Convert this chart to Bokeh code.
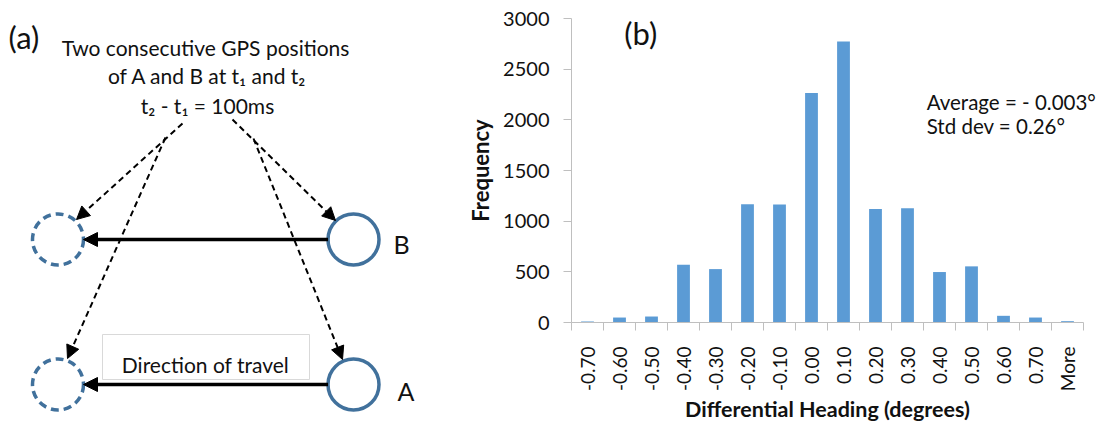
import math
from bokeh.plotting import figure
from bokeh.models import (Range1d, FixedTicker, Label, Arrow, NormalHead, ColumnDataSource,
                          LinearAxis)
from bokeh.core.properties import value
from bokeh.embed import file_html
from bokeh.resources import INLINE

# ---------------- data: panel (b) histogram ----------------
bins = ["-0.70", "-0.60", "-0.50", "-0.40", "-0.30", "-0.20", "-0.10", "0.00",
        "0.10", "0.20", "0.30", "0.40", "0.50", "0.60", "0.70", "More"]
freq = [10, 49, 59, 570, 527, 1167, 1164, 2265, 2773, 1121, 1128, 498, 554, 66, 49, 13]
y_ticks = [0, 500, 1000, 1500, 2000, 2500, 3000]
stats_lines = ["Average = - 0.003°", "Std dev = 0.26°"]

# ---------------- panel (a) diagram texts ----------------
header_lines = ["Two consecutive GPS positions", "of A and B at t\u2081 and t\u2082",
                "t\u2082 - t\u2081 = 100ms"]
point_names = ["B", "A"]
box_text = "Direction of travel"

# ---------------- layout geometry (pixels) ----------------
W, H = 1113, 423
PLOT_L, PLOT_R, PLOT_T, PLOT_B = 571, 1083, 18, 322   # histogram plot area
YMAX = 3000

# diagram geometry (pixel coordinates, y grows downward)
row_y = [239, 384]
old_x, new_x = 57.5, 353
circ_r = 25.5

FONT = "Lato"
TXT = "#111111"
AX = "#BFBFBF"
CIRC = "#41719C"

n = len(bins)
centers = [i + 0.5 for i in range(n)]
src = ColumnDataSource(dict(x=centers, top=freq, label=bins))

ux = (PLOT_R - PLOT_L) / n          # pixels per category
uy = YMAX / (PLOT_B - PLOT_T)       # frequency units per pixel
x_range = Range1d(-PLOT_L / ux, n + (W - PLOT_R) / ux)
y_range = Range1d(-(H - PLOT_B) * uy, YMAX + PLOT_T * uy)

p = figure(width=W, height=H, x_range=x_range, y_range=y_range,
           output_backend="svg", toolbar_location=None, x_axis_type=None, y_axis_type=None,
           min_border=0, outline_line_color=None)
p.xgrid.visible = False
p.ygrid.visible = False

# pixel-like ranges used for the diagram of panel (a)
p.extra_x_ranges = {"dx": Range1d(0, W)}
p.extra_y_ranges = {"dy": Range1d(H, 0)}
D = dict(x_range_name="dx", y_range_name="dy")

# ---------------- panel (b) ----------------
p.vbar(x="x", top="top", width=0.4, source=src, fill_color="#5B9BD5", line_color=None)

xa = LinearAxis(fixed_location=0, bounds=(0, n))
xa.ticker = FixedTicker(ticks=centers, minor_ticks=list(range(n + 1)))
xa.major_label_overrides = {c: b for c, b in zip(centers, bins)}
xa.major_label_orientation = math.pi / 2
xa.major_tick_out = 0
xa.major_tick_in = 0
xa.minor_tick_out = 8
xa.minor_tick_in = 0
xa.minor_tick_line_color = AX
xa.axis_line_color = AX
xa.major_label_standoff = 16
xa.major_label_text_font = FONT
xa.major_label_text_font_size = "19px"
xa.major_label_text_color = TXT
xa.axis_label = "Differential Heading (degrees)"
xa.axis_label_text_font = FONT
xa.axis_label_text_font_style = "bold"
xa.axis_label_text_font_size = "21.5px"
xa.axis_label_text_color = TXT
xa.axis_label_standoff = 2
p.add_layout(xa, "below")

ya = LinearAxis(fixed_location=0, bounds=(0, YMAX))
ya.ticker = FixedTicker(ticks=y_ticks, minor_ticks=[])
ya.major_tick_out = 8
ya.major_tick_in = 0
ya.minor_tick_line_color = None
ya.major_tick_line_color = AX
ya.axis_line_color = AX
ya.major_label_standoff = 14
ya.major_label_text_font = FONT
ya.major_label_text_font_size = "20px"
ya.major_label_text_color = TXT
ya.axis_label = "Frequency"
ya.axis_label_text_font = FONT
ya.axis_label_text_font_style = "bold"
ya.axis_label_text_font_size = "22px"
ya.axis_label_text_color = TXT
ya.axis_label_standoff = 6
p.add_layout(ya, "left")

p.add_layout(Label(x=1.65, y=2860, text="(b)", text_font=FONT, text_font_size="31px",
                   text_color=TXT, text_baseline="alphabetic"))
for txt, yy in zip(stats_lines, [2174, 1944]):
    p.add_layout(Label(x=11.1, y=yy, text=txt, text_font=FONT, text_font_size="20.5px",
                       text_color=TXT, text_baseline="alphabetic"))

# ---------------- panel (a) ----------------
# text box
p.quad(left=[102], right=[309], top=[334], bottom=[379], fill_color="white",
       line_color="#D9D9D9", line_width=1, **D)
p.text(x=[205], y=[364], text=[box_text], text_font=value(FONT), text_font_size="21px",
       text_align="center", text_baseline="alphabetic", text_color=TXT, **D)

# circles: dashed = earlier position, solid = current position
p.circle(x=[old_x] * 2, y=row_y, radius=circ_r, fill_color=None, line_color=CIRC,
         line_width=3.5, line_dash="8 5", **D)
p.circle(x=[new_x] * 2, y=row_y, radius=circ_r, fill_color=None, line_color=CIRC,
         line_width=3.5, **D)

# solid arrows (direction of travel)
for yy in row_y:
    p.add_layout(Arrow(x_start=new_x - circ_r, y_start=yy, x_end=old_x + circ_r, y_end=yy,
                       line_width=3.5, line_color="black",
                       end=NormalHead(size=14, fill_color="black", line_color="black",
                                      line_width=1), **D))

# dashed arrows from the caption to the circles
dashed = [((182, 123), (76, 219)), ((165, 137), (67, 358)),
          ((232, 119), (335, 220)), ((253, 138), (342, 359))]
for (xs, ys), (xe, ye) in dashed:
    p.add_layout(Arrow(x_start=xs, y_start=ys, x_end=xe, y_end=ye, line_width=2,
                       line_color="black", line_dash="6 4",
                       end=NormalHead(size=13, fill_color="black", line_color="black",
                                      line_width=1), **D))

# header text
p.text(x=[205, 207, 207], y=[47, 75, 105], text=header_lines, text_font=value(FONT),
       text_font_size="21px", text_align="center", text_baseline="alphabetic",
       text_color=TXT, **D)
p.text(x=[8], y=[36], text=["(a)"], text_font=value(FONT), text_font_size="31px",
       text_align="left", text_baseline="alphabetic", text_color=TXT, **D)
p.text(x=[393, 397], y=[243, 390], text=point_names, text_font=value(FONT),
       text_font_size="25px", text_align="left", text_baseline="alphabetic",
       text_color=TXT, **D)

open("out.html", "w").write(file_html(p, INLINE))
